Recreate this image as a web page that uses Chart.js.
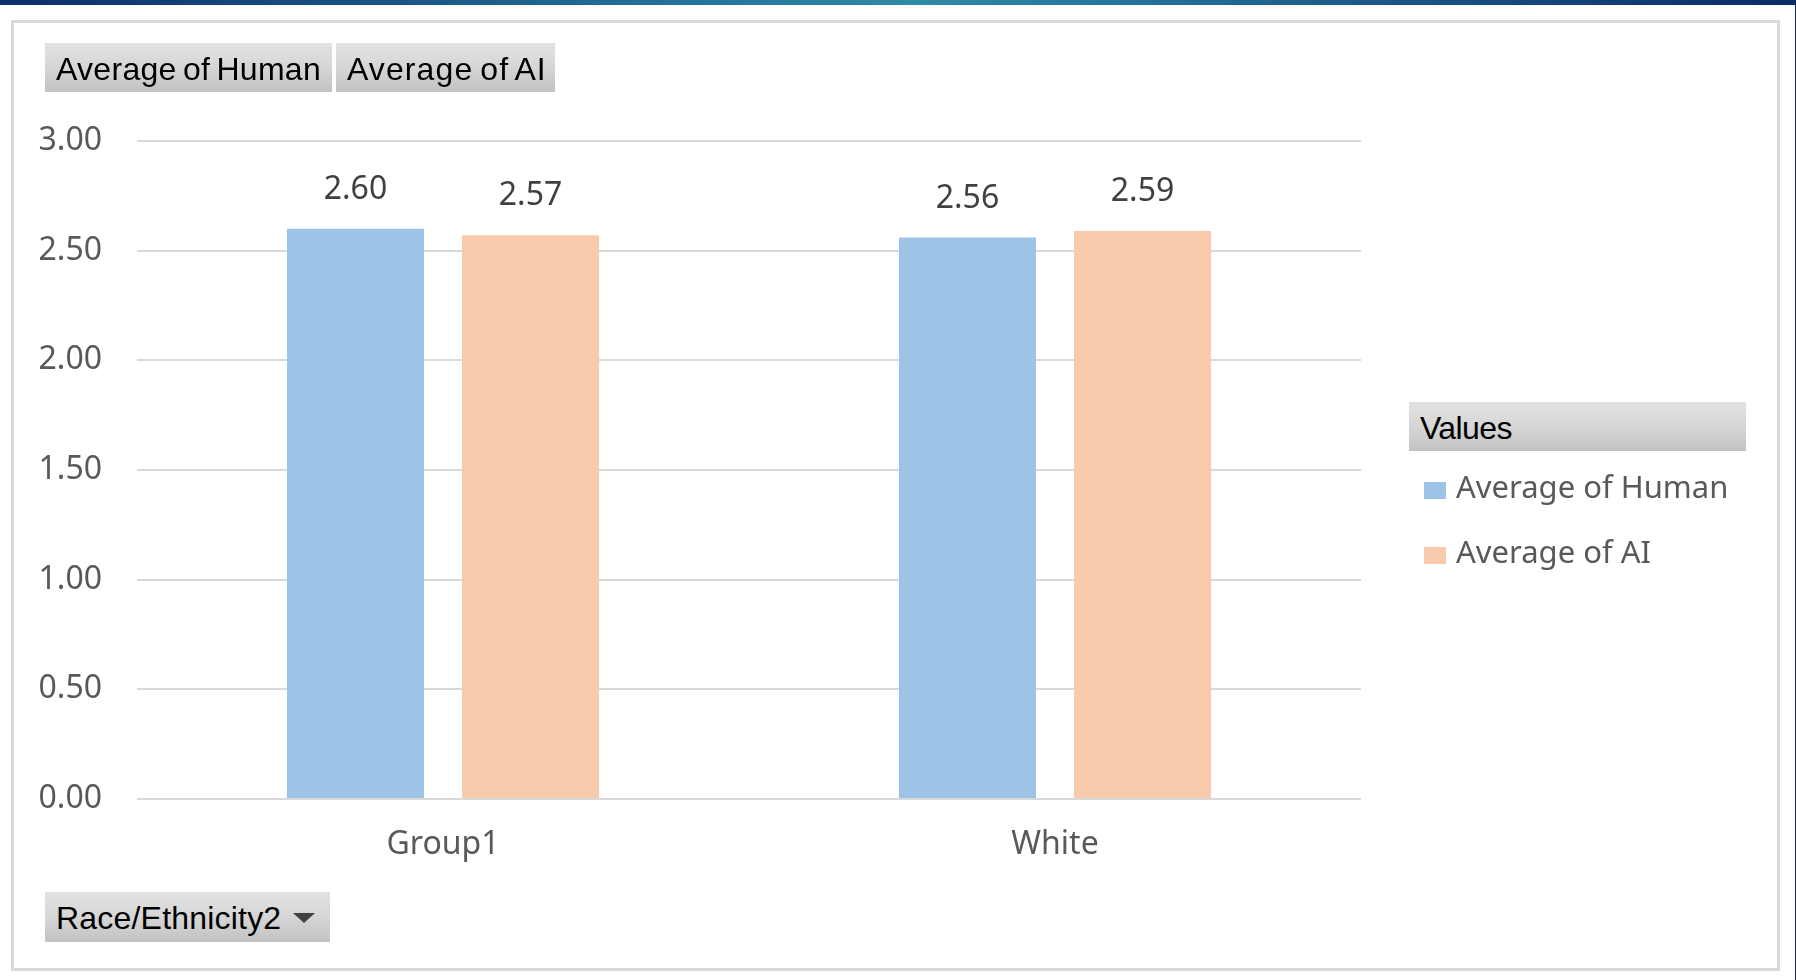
<!DOCTYPE html>
<html>
<head>
<meta charset="utf-8">
<title>Average of Human / Average of AI by Race/Ethnicity2</title>
<script src="https://cdn.jsdelivr.net/npm/chart.js@4.4.1/dist/chart.umd.min.js"></script>
<style>
  html, body { margin: 0; padding: 0; background: #ffffff; }
  body { width: 1796px; height: 980px; position: relative; overflow: hidden; }
  #topStrip {
    position: absolute; left: 0; top: 0; width: 1796px; height: 5px;
    background: linear-gradient(90deg, #0d2e69 0%, #1c5a8a 25%, #2e8ba8 51%, #1d5b8b 75%, #0b2a66 100%);
  }
  #edgeLine { position: absolute; left: 1795px; top: 0; width: 1px; height: 980px; background: #0c2a66; }
  #frame {
    position: absolute; left: 11px; top: 20px; width: 1769px; height: 951px;
    border: 3px solid #d9d9d9; box-sizing: border-box; pointer-events: none;
  }
  #chartCanvas { position: absolute; left: 0; top: 0; }
  .pivotBtn {
    position: absolute; height: 49px; box-sizing: border-box; padding-left: 11px; padding-top: 3px;
    background: linear-gradient(180deg, #e2e2e2 0%, #d6d6d6 50%, #c2c2c2 100%);
    font-family: "Liberation Sans", Arial, sans-serif; font-size: 32px; color: #000;
    line-height: 46px; white-space: nowrap; letter-spacing: 0.3px; word-spacing: -3px;
  }
  #btnHuman { left: 45px; top: 43px; width: 287px; }
  #btnAI { left: 336px; top: 43px; width: 219px; letter-spacing: 1.1px; }
  #btnRace { left: 45px; top: 892px; width: 285px; height: 50px; line-height: 47px; letter-spacing: 0.2px; }
  #btnRace .arrow {
    position: absolute; left: 248px; top: 21px; width: 0; height: 0;
    border-left: 11px solid transparent; border-right: 11px solid transparent;
    border-top: 10px solid #404040;
  }
  #valuesHead { left: 1409px; top: 402px; width: 337px; letter-spacing: -0.6px; }
  #legendItems { position: absolute; left: 1424px; top: 465px; }
  .legItem {
    position: relative; height: 65px; white-space: nowrap;
    font-family: "Noto Sans", sans-serif; font-size: 31px; color: #595959;
  }
  .legItem .sw { position: absolute; left: 0; top: 17px; width: 22px; height: 17px; }
  .legItem .tx { position: absolute; left: 32px; top: 0; line-height: 42px; }
</style>
</head>
<body>
<div id="topStrip"></div>
<div id="edgeLine"></div>
<canvas id="chartCanvas" width="1796" height="980"></canvas>
<div id="frame"></div>
<div class="pivotBtn" id="btnHuman">Average of Human</div>
<div class="pivotBtn" id="btnAI">Average of AI</div>
<div class="pivotBtn" id="btnRace">Race/Ethnicity2<span class="arrow"></span></div>
<div class="pivotBtn" id="valuesHead">Values</div>
<div id="legendItems"></div>
<script>
// Categories on the x axis
const categories = ['Group1', 'White'];
// Series values (averages per category)
const humanAvg = [2.60, 2.56];
const aiAvg = [2.57, 2.59];
// Series names
const seriesNames = ['Average of Human', 'Average of AI'];
// Value axis range
const yMin = 0;
const yMax = 3;
const yStep = 0.5;

const colHuman = '#9dc3e6';
const colAI = '#f8cbad';

// Writes each bar's value above it
const barValueLabels = {
  id: 'barValueLabels',
  afterDatasetsDraw(chart) {
    const ctx = chart.ctx;
    ctx.save();
    ctx.font = '32px "Noto Sans", sans-serif';
    ctx.fillStyle = '#404040';
    ctx.textAlign = 'center';
    ctx.textBaseline = 'middle';
    chart.data.datasets.forEach((ds, di) => {
      const meta = chart.getDatasetMeta(di);
      meta.data.forEach((bar, i) => {
        ctx.fillText(ds.data[i].toFixed(2), bar.x, bar.y - 39);
      });
    });
    ctx.restore();
  }
};

const chart = new Chart(document.getElementById('chartCanvas'), {
  type: 'bar',
  data: {
    labels: categories,
    datasets: [
      { label: seriesNames[0], data: humanAvg, backgroundColor: colHuman, borderWidth: 0 },
      { label: seriesNames[1], data: aiAvg, backgroundColor: colAI, borderWidth: 0 }
    ]
  },
  options: {
    responsive: false,
    animation: false,
    devicePixelRatio: 1,
    layout: { padding: { left: 37, right: 435, top: 141, bottom: 101 } },
    datasets: {
      bar: { barPercentage: 0.783, categoryPercentage: 0.572 }
    },
    plugins: {
      legend: { display: false },
      tooltip: { enabled: false }
    },
    scales: {
      x: {
        grid: { display: false, drawTicks: false },
        border: { display: false },
        ticks: {
          color: '#595959',
          font: { family: 'Noto Sans', size: 32 },
          padding: 27
        },
        afterFit(scale) { scale.height = 80; }
      },
      y: {
        min: yMin,
        max: yMax,
        grid: { color: '#d9d9d9', lineWidth: 2, drawTicks: false },
        border: { display: false },
        ticks: {
          stepSize: yStep,
          color: '#595959',
          font: { family: 'Noto Sans', size: 32 },
          padding: 35,
          labelOffset: 0,
          callback: (v) => Number(v).toFixed(2)
        },
        afterFit(scale) { scale.width = 100; }
      }
    }
  },
  plugins: [barValueLabels]
});

// Legend entries built from the chart's datasets
const legendBox = document.getElementById('legendItems');
chart.data.datasets.forEach((ds) => {
  const item = document.createElement('div');
  item.className = 'legItem';
  const sw = document.createElement('span');
  sw.className = 'sw';
  sw.style.background = ds.backgroundColor;
  const tx = document.createElement('span');
  tx.className = 'tx';
  tx.textContent = ds.label;
  item.appendChild(sw);
  item.appendChild(tx);
  legendBox.appendChild(item);
});
</script>
</body>
</html>
